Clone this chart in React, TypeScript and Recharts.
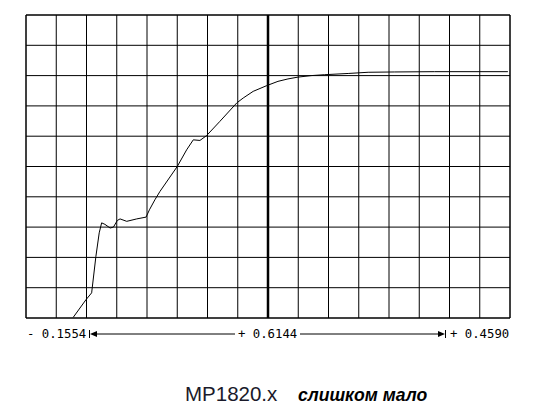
import React from 'react';
import { LineChart, Line, XAxis, YAxis, CartesianGrid, ReferenceLine } from 'recharts';

// curve, in grid units (16 columns x 10 rows)
const xValues = [
  1.56, 1.98, 2.17, 2.31, 2.42, 2.5, 2.61, 2.78, 2.89, 3.02, 3.11, 3.33, 3.66, 3.97, 4.08, 4.26, 4.43,
  5.0, 5.31, 5.53, 5.75, 5.97, 6.41, 6.97, 7.18, 7.51, 7.96, 8.33, 8.66, 8.99, 9.43, 9.87, 10.65,
  11.31, 12.19, 13.51, 15.93,
];
const yValues = [
  0.02, 0.6, 0.83, 2.03, 2.81, 3.14, 3.09, 2.97, 3.0, 3.22, 3.27, 3.19, 3.27, 3.33, 3.57, 3.9, 4.18,
  5.0, 5.55, 5.88, 5.86, 6.02, 6.49, 7.1, 7.26, 7.48, 7.67, 7.81, 7.89, 7.95, 8.0, 8.03, 8.07,
  8.11, 8.12, 8.13, 8.13,
];

const xTicks = [0, 1, 2, 3, 4, 5, 6, 7, 8, 9, 10, 11, 12, 13, 14, 15, 16];
const yTicks = [0, 1, 2, 3, 4, 5, 6, 7, 8, 9, 10];

const leftLabel = '- 0.1554';
const midLabel = '+ 0.6144';
const rightLabel = '+ 0.4590';
const titleMain = 'MP1820.x';
const titleNote = 'слишком мало';

const data = xValues.map((x, i) => ({ x, y: yValues[i] }));

const mono = '"DejaVu Sans Mono", monospace';
const sans = '"Liberation Sans", Arial, sans-serif';

export default function App() {
  return (
    <div style={{ position: 'absolute', left: 0, top: 0, width: 538, height: 411, background: '#fff' }}>
      <LineChart width={538} height={411} data={data} margin={{ top: 15, left: 26, right: 28, bottom: 93 }}>
        <XAxis dataKey="x" type="number" domain={[0, 16]} ticks={xTicks} hide />
        <YAxis type="number" domain={[0, 10]} ticks={yTicks} hide />
        <CartesianGrid stroke="#000" strokeWidth={1} />
        <ReferenceLine x={0} stroke="#000" />
        <ReferenceLine x={16} stroke="#000" />
        <ReferenceLine y={0} stroke="#000" />
        <ReferenceLine y={10} stroke="#000" />
        <ReferenceLine x={8} stroke="#000" strokeWidth={2.5} />
        <Line
          type="linear"
          dataKey="y"
          stroke="#000"
          strokeWidth={1}
          dot={false}
          isAnimationActive={false}
        />
      </LineChart>
      <svg width={538} height={411} style={{ position: 'absolute', left: 0, top: 0, pointerEvents: 'none' }}>
        <text x={27} y={338} fontFamily={mono} fontSize={12.3} fill="#000">{leftLabel}</text>
        <line x1={89.5} y1={330} x2={89.5} y2={338} stroke="#000" />
        <polygon points="90,334 97,331 97,337" fill="#000" />
        <line x1={97} y1={334} x2={235} y2={334} stroke="#000" />
        <text x={238} y={338} fontFamily={mono} fontSize={12.3} fill="#000">{midLabel}</text>
        <line x1={300} y1={334} x2={438} y2={334} stroke="#000" />
        <polygon points="445,334 438,331 438,337" fill="#000" />
        <line x1={445.5} y1={330} x2={445.5} y2={338} stroke="#000" />
        <text x={450} y={338} fontFamily={mono} fontSize={12.3} fill="#000">{rightLabel}</text>
        <text x={185} y={401} fontFamily={sans} fontSize={20.5} fill="#1a1a2a">{titleMain}</text>
        <text x={298} y={401} fontFamily={sans} fontSize={17.6} fontWeight="bold" fontStyle="italic" fill="#000">{titleNote}</text>
      </svg>
    </div>
  );
}
